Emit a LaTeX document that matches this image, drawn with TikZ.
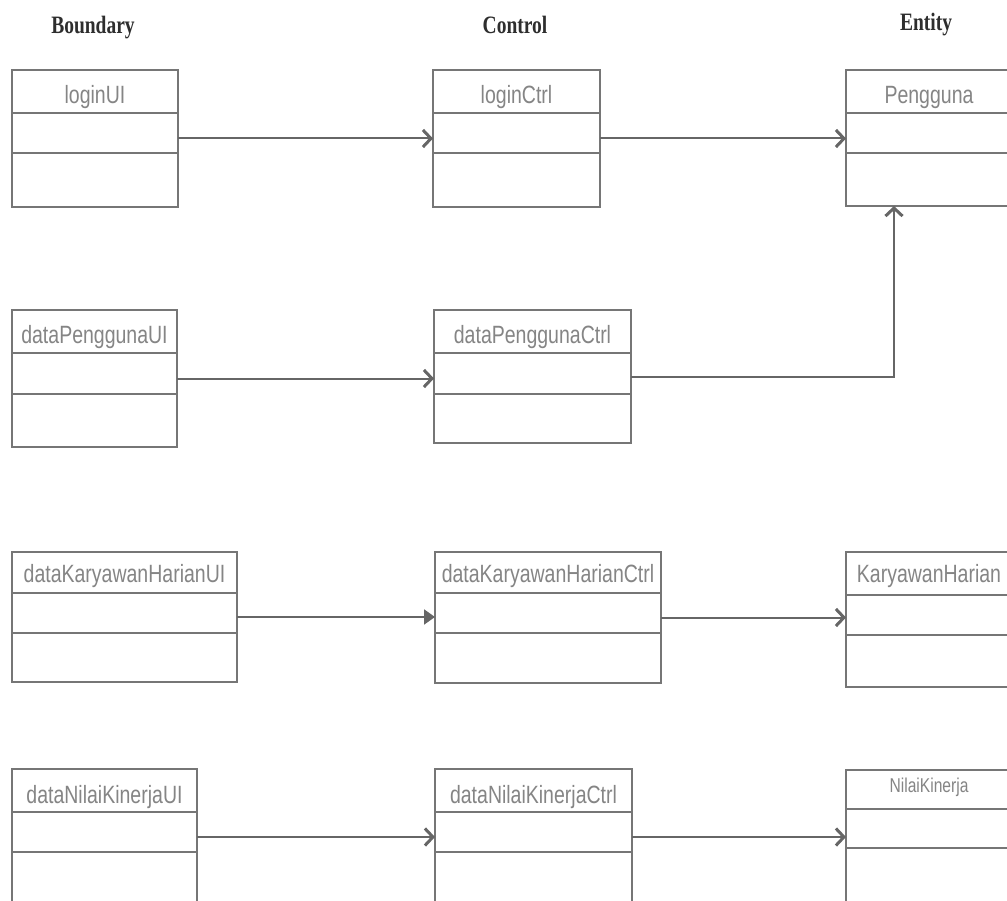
\documentclass[tikz,border=0pt]{standalone}
\usepackage{fontspec}
\usetikzlibrary{arrows.meta}
\newfontfamily\lblfont[FakeStretch=0.78]{Liberation Sans}
\newfontfamily\hdrfont[FakeStretch=0.78,BoldFeatures={FakeStretch=0.78}]{Liberation Serif}
\definecolor{boxgray}{HTML}{767676}
\definecolor{lblgray}{HTML}{858585}
\definecolor{hdrgray}{HTML}{2E2E2E}
\definecolor{arrgray}{HTML}{666666}
\tikzset{
  clsbox/.style={draw=boxgray, line width=1.8pt, rectangle, inner sep=0pt, outer sep=0pt},
  divider/.style={draw=boxgray, line width=2.6pt},
  lbl/.style={text=lblgray, font=\lblfont\fontsize{25}{28}\selectfont, inner sep=0pt},
  lblsmall/.style={text=lblgray, font=\lblfont\fontsize{20}{23}\selectfont, inner sep=0pt},
  hdr/.style={text=hdrgray, font=\hdrfont\bfseries\fontsize{25}{29}\selectfont, inner sep=0pt},
  conn/.style={draw=arrgray, line width=2pt, -{Straight Barb[length=8pt,width=17pt,line width=3pt]}},
  connfill/.style={draw=arrgray, line width=2pt, -{Triangle[length=11pt,width=15pt]}}
}
% name, x1, y1, x2, y2, d1, d2, label, label-y
\newcommand\umlclass[9]{%
  \node[clsbox, minimum width={(#4-#2)*1pt}, minimum height={(#5-#3)*1pt}] (#1) at ({(#2+#4)/2},{(#3+#5)/2}) {};
  \draw[divider] (#2,#6) -- (#4,#6) (#2,#7) -- (#4,#7);
  \node[lbl] (#1-name) at ({(#2+#4)/2},#9) {#8};
}
\newcommand\umlclasssmall[9]{%
  \node[clsbox, minimum width={(#4-#2)*1pt}, minimum height={(#5-#3)*1pt}] (#1) at ({(#2+#4)/2},{(#3+#5)/2}) {};
  \draw[divider] (#2,#6) -- (#4,#6) (#2,#7) -- (#4,#7);
  \node[lblsmall] (#1-name) at ({(#2+#4)/2},#9) {#8};
}
\begin{document}
\begin{tikzpicture}[x=1pt,y=-1pt]
\useasboundingbox (0,0) rectangle (1007,901);
\clip (0,0) rectangle (1007,901);
\fill[white] (0,0) rectangle (1007,901);

% headers
\node[hdr] (hB) at (93,28) {Boundary};
\node[hdr] (hC) at (515,25) {Control};
\node[hdr] (hE) at (926,25) {Entity};

% row 1
\umlclass{loginUI}{12}{70}{178}{207}{113}{153}{loginUI}{97}
\umlclass{loginCtrl}{433}{70}{600}{207}{113}{153}{loginCtrl}{97}
\umlclass{Pengguna}{846}{70}{1012}{206}{113}{153}{Pengguna}{97}

% row 2
\umlclass{dPUI}{12}{310}{177}{447}{353}{394}{dataPenggunaUI}{337}
\umlclass{dPCtrl}{434}{310}{631}{443}{353}{394}{dataPenggunaCtrl}{337}

% row 3
\umlclass{dKUI}{12}{552}{237}{682}{593}{633}{dataKaryawanHarianUI}{576}
\umlclass{dKCtrl}{435}{552}{661}{683}{593}{633}{dataKaryawanHarianCtrl}{576}
\umlclass{KH}{846}{552}{1012}{687}{595}{635}{KaryawanHarian}{576}

% row 4
\umlclass{dNUI}{12}{769}{197}{905}{812}{852}{dataNilaiKinerjaUI}{797}
\umlclass{dNCtrl}{435}{769}{632}{905}{812}{852}{dataNilaiKinerjaCtrl}{797}
\umlclasssmall{NK}{846}{770}{1012}{905}{809}{848}{NilaiKinerja}{787}

% connectors
\draw[conn] (loginUI.east) -- (loginUI.east -| loginCtrl.west);
\draw[conn] (loginCtrl.east) -- (loginCtrl.east -| Pengguna.west);
\draw[conn] (dPUI.east) -- (dPUI.east -| dPCtrl.west);
\draw[conn] (dPCtrl.east) -| ([xshift=-35pt]Pengguna.south);
\draw[connfill] (dKUI.east) -- (dKUI.east -| dKCtrl.west);
\draw[conn] (dKCtrl.east) -- (dKCtrl.east -| KH.west);
\draw[conn] (dNUI.east) -- (dNUI.east -| dNCtrl.west);
\draw[conn] (dNCtrl.east) -- (dNCtrl.east -| NK.west);
\end{tikzpicture}
\end{document}
